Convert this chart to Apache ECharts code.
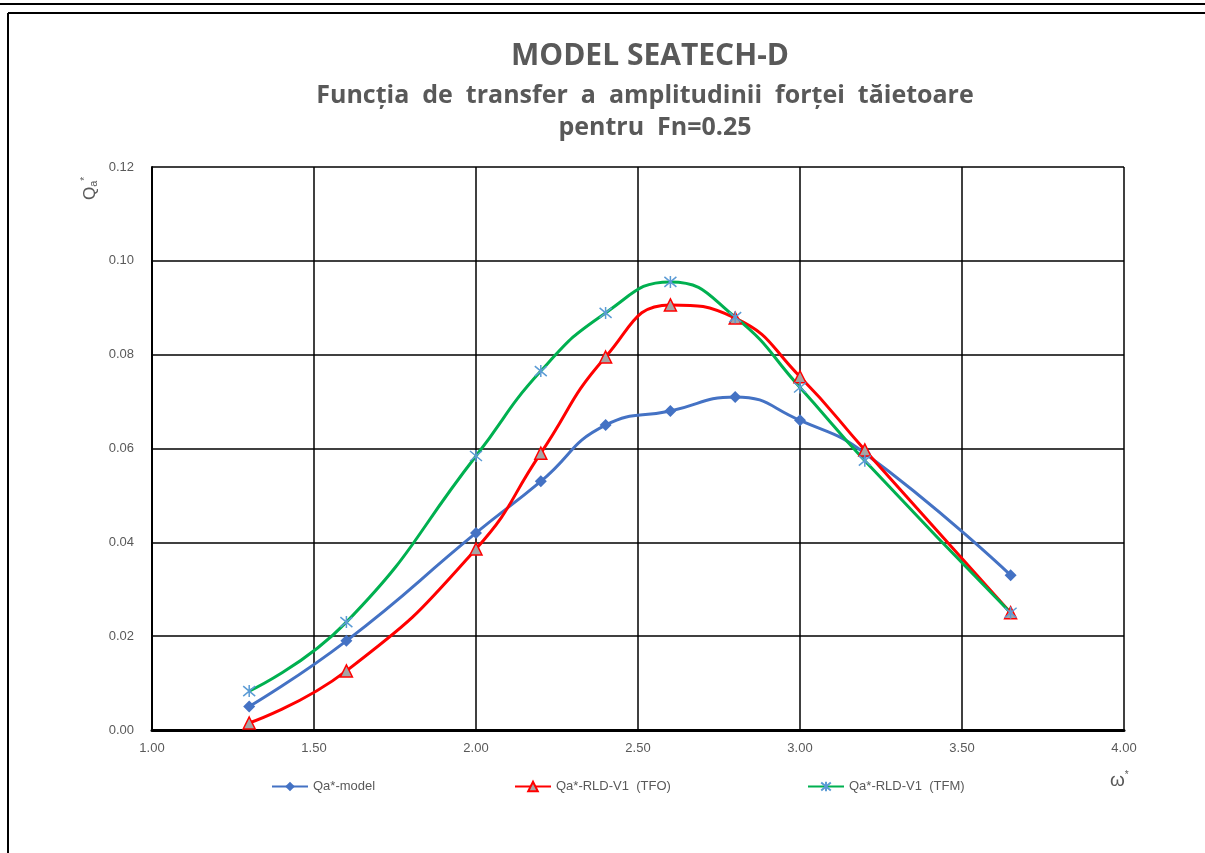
<!DOCTYPE html>
<html>
<head>
<meta charset="utf-8">
<script src="https://cdn.jsdelivr.net/npm/echarts@6/dist/echarts.min.js"></script>
<style>
  html, body { margin: 0; padding: 0; background: #fff; }
  #chart { width: 1205px; height: 853px; }
</style>
</head>
<body>
<div id="chart"></div>
<script>
  // omega* values (same for all series)
  var omega = [1.3, 1.6, 2.0, 2.2, 2.4, 2.6, 2.8, 3.0, 3.2, 3.65];
  var qaModel = [0.005, 0.019, 0.042, 0.053, 0.065, 0.068, 0.071, 0.066, 0.059, 0.033];
  var qaTFO = [0.0015, 0.0126, 0.0386, 0.059, 0.0795, 0.0906, 0.0878, 0.0753, 0.0597, 0.025];
  var qaTFM = [0.0083, 0.023, 0.0584, 0.0765, 0.0889, 0.0955, 0.088, 0.073, 0.0574, 0.025];
  var seriesNames = ['Qa*-model', 'Qa*-RLD-V1  (TFO)', 'Qa*-RLD-V1  (TFM)'];

  function pairs(ys) {
    return omega.map(function (x, i) { return [x, ys[i]]; });
  }

  var chart = echarts.init(document.getElementById('chart'));
  var font = "'Liberation Sans', 'Open Sans', sans-serif";
  var starPath = 'path://M-5,-5L5,5M-5,5L5,-5M0,-6L0,6';

  var option = {
    backgroundColor: '#fff',
    animation: false,
    textStyle: { fontFamily: font },
    title: [
      {
        text: 'MODEL SEATECH-D',
        left: 645, top: 36, textAlign: 'center',
        textStyle: { fontFamily: "'Open Sans', sans-serif", fontSize: 30, fontWeight: 'bold', color: '#595959' }
      },
      {
        text: 'Funcția  de  transfer  a  amplitudinii  forței  tăietoare',
        left: 640, top: 78, textAlign: 'center',
        textStyle: { fontFamily: "'Open Sans', sans-serif", fontSize: 25, fontWeight: 'bold', color: '#595959' }
      },
      {
        text: 'pentru  Fn=0.25',
        left: 650, top: 110, textAlign: 'center',
        textStyle: { fontFamily: "'Open Sans', sans-serif", fontSize: 25, fontWeight: 'bold', color: '#595959' }
      }
    ],
    legend: [
      { data: [seriesNames[0]], left: 271, top: 780, padding: 0, itemWidth: 36, itemHeight: 12,
        textStyle: { color: '#595959', fontSize: 13 } },
      { data: [seriesNames[1]], left: 514, top: 780, padding: 0, itemWidth: 36, itemHeight: 12,
        textStyle: { color: '#595959', fontSize: 13 } },
      { data: [seriesNames[2]], left: 807, top: 780, padding: 0, itemWidth: 36, itemHeight: 12,
        textStyle: { color: '#595959', fontSize: 13 } }
    ],
    grid: { left: 152, right: 81, top: 167, bottom: 123 },
    xAxis: {
      type: 'value', min: 1, max: 4, interval: 0.5,
      axisLine: { lineStyle: { color: '#000', width: 3 } },
      axisTick: { show: false },
      axisLabel: { color: '#595959', fontSize: 13, margin: 12,
        formatter: function (v) { return v.toFixed(2); } },
      splitLine: { lineStyle: { color: '#000', width: 1.5 } }
    },
    yAxis: {
      type: 'value', min: 0, max: 0.12, interval: 0.02,
      axisLine: { show: true, lineStyle: { color: '#000', width: 2 } },
      axisTick: { show: false },
      axisLabel: { color: '#595959', fontSize: 13, margin: 18,
        formatter: function (v) { return v.toFixed(2); } },
      splitLine: { lineStyle: { color: '#000', width: 1.5 } }
    },
    series: [
      {
        name: seriesNames[0], type: 'line', smooth: 0.5, data: pairs(qaModel),
        symbol: 'diamond', symbolSize: 12,
        lineStyle: { color: '#4472c4', width: 3 },
        itemStyle: { color: '#4472c4' }
      },
      {
        name: seriesNames[1], type: 'line', smooth: 0.5, data: pairs(qaTFO),
        symbol: 'triangle', symbolSize: 12,
        lineStyle: { color: '#ff0000', width: 3 },
        itemStyle: { color: '#a5a5a5', borderColor: '#ff0000', borderWidth: 1.5 }
      },
      {
        name: seriesNames[2], type: 'line', smooth: 0.5, data: pairs(qaTFM),
        symbol: starPath, symbolSize: 12,
        lineStyle: { color: '#00b050', width: 3 },
        itemStyle: { color: '#5b9bd5', borderColor: '#5b9bd5', borderWidth: 1.5 }
      }
    ],
    graphic: [
      { type: 'line', shape: { x1: 0, y1: 4, x2: 1205, y2: 4 }, style: { stroke: '#000', lineWidth: 2 } },
      { type: 'line', shape: { x1: 8, y1: 13, x2: 1205, y2: 13 }, style: { stroke: '#000', lineWidth: 2 } },
      { type: 'line', shape: { x1: 8, y1: 13, x2: 8, y2: 853 }, style: { stroke: '#000', lineWidth: 2 } },
      {
        type: 'text', x: 80, y: 200, rotation: Math.PI / 2,
        style: {
          text: '{q|Q}{s|a}{t|*}',
          rich: {
            q: { fontSize: 17, fill: '#595959', fontFamily: font },
            s: { fontSize: 11, fill: '#595959', fontFamily: font, padding: [8, 0, 0, 0] },
            t: { fontSize: 10, fill: '#595959', fontFamily: font, padding: [0, 0, 10, 0] }
          }
        }
      },
      {
        type: 'text', x: 1110, y: 770,
        style: {
          text: '{w|ω}{t|*}',
          rich: {
            w: { fontSize: 19, fill: '#595959', fontFamily: font },
            t: { fontSize: 10, fill: '#595959', fontFamily: font, padding: [0, 0, 12, 0] }
          }
        }
      }
    ]
  };

  chart.setOption(option);
  window.addEventListener('resize', function () { chart.resize(); });
</script>
</body>
</html>
